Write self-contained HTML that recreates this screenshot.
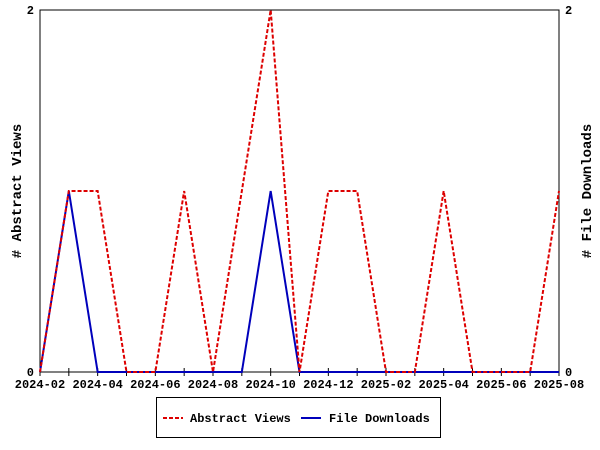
<!DOCTYPE html>
<html><head><meta charset="utf-8"><style>
body{margin:0;background:#fff;}
svg{display:block;font-family:"Liberation Mono",monospace;font-weight:bold;font-size:12px;}
</style></head><body>
<svg id="chart" width="600" height="450">
<rect x="40" y="10" width="519" height="362" fill="#fff" stroke="#000"/>
<g id="ticks"></g>
<g id="series"></g>
<text x="34" y="376" text-anchor="end">0</text>
<text x="34" y="14" text-anchor="end">2</text>
<text x="565" y="376">0</text>
<text x="565" y="14">2</text>
<text transform="translate(21,191) rotate(-90)" text-anchor="middle" font-size="14"># Abstract Views</text>
<text transform="translate(591,191) rotate(-90)" text-anchor="middle" font-size="14"># File Downloads</text>
<g>
<rect x="156.5" y="397.5" width="284" height="40" fill="#fff" stroke="#000"/>
<line x1="163" y1="418" x2="183" y2="418" stroke="#d00" stroke-width="2" stroke-dasharray="4,2"/>
<text x="190" y="422">Abstract Views</text>
<line x1="301" y1="418" x2="321" y2="418" stroke="#00b" stroke-width="2"/>
<text x="329" y="422">File Downloads</text>
</g>
</svg>
<script>
const months = ["2024-02","2024-03","2024-04","2024-05","2024-06","2024-07","2024-08","2024-09","2024-10","2024-11","2024-12","2025-01","2025-02","2025-03","2025-04","2025-05","2025-06","2025-07","2025-08"];
const abstractViews = [0,1,1,0,0,1,0,1,2,0,1,1,0,0,1,0,0,0,1];
const fileDownloads = [0,1,0,0,0,0,0,0,1,0,0,0,0,0,0,0,0,0,0];
const tickLabels = ["2024-02","2024-04","2024-06","2024-08","2024-10","2024-12","2025-02","2025-04","2025-06","2025-08"];
const yMax = 2;
const NS="http://www.w3.org/2000/svg";
const x = i => 40 + i*(519/(months.length-1));
const y = v => 372 - v*(362/yMax);
const tg=document.getElementById('ticks');
months.forEach((m,i)=>{
  const l=document.createElementNS(NS,'line');
  
  
  l.setAttribute('x1',x(i));l.setAttribute('x2',x(i));
  l.setAttribute('y1',368);l.setAttribute('y2',376);
  l.setAttribute('stroke','#000');
  tg.appendChild(l);
  if(tickLabels.includes(m)){
    const t=document.createElementNS(NS,'text');
    
    
    t.setAttribute('x',x(i));t.setAttribute('y',388);
    t.setAttribute('text-anchor','middle');
    t.textContent=m;
    tg.appendChild(t);
  }
});
const sg=document.getElementById('series');
function line(vals,color,dash,name){
  const p=document.createElementNS(NS,'polyline');
  
  
  p.setAttribute('points',vals.map((v,i)=>x(i)+','+y(v)).join(' '));
  p.setAttribute('fill','none');p.setAttribute('stroke',color);p.setAttribute('stroke-width','2');
  if(dash)p.setAttribute('stroke-dasharray',dash);
  sg.appendChild(p);
}
line(fileDownloads,'#00b',null,'file-downloads-line');
line(abstractViews,'#d00','4,2','abstract-views-line');
</script>
</body></html>
